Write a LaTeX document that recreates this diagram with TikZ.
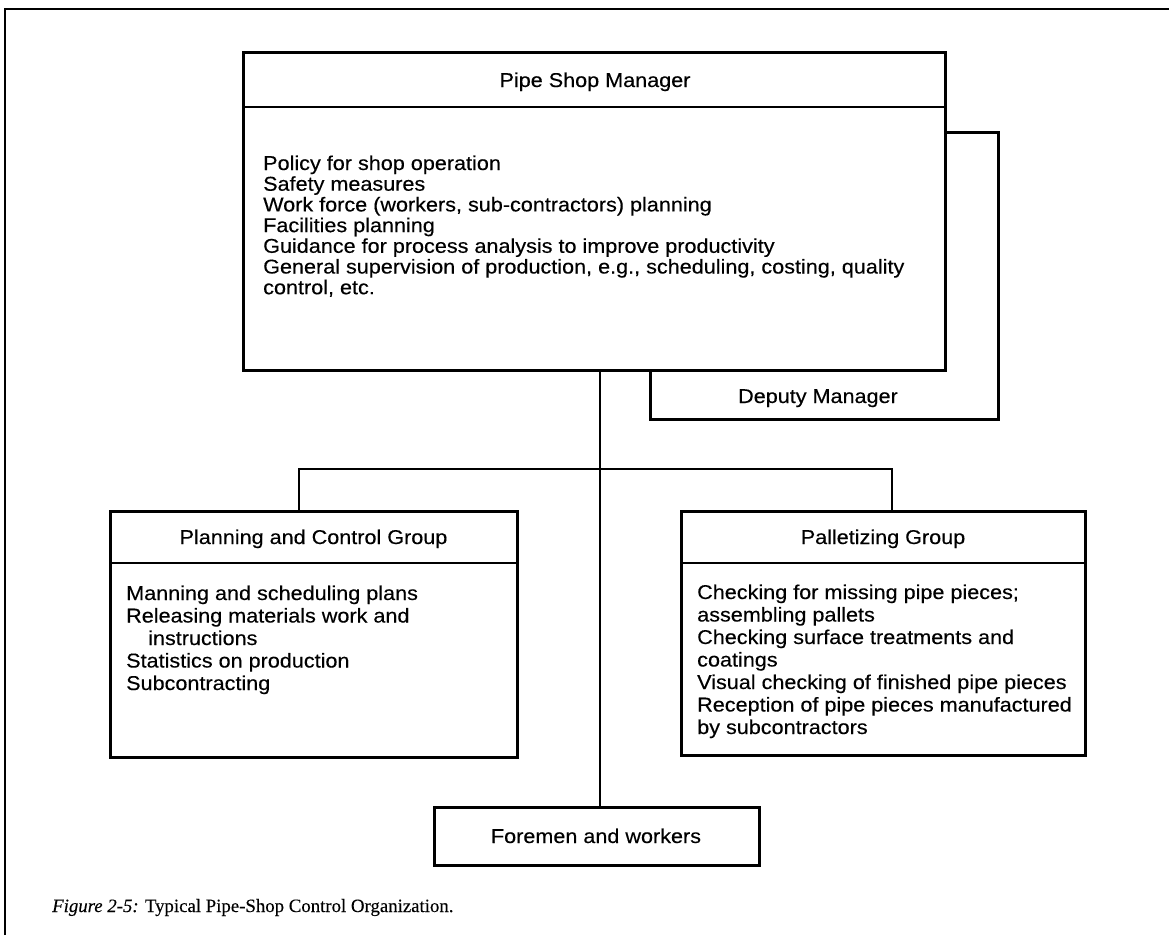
\documentclass[tikz,border=0pt]{standalone}
\usepackage{fontspec}
\setmainfont{Liberation Sans}[FakeStretch=1.08, FakeBold=0.3]
\newfontfamily\capfont{Liberation Serif}[FakeBold=0.2]

\begin{document}
\begin{tikzpicture}[x=1pt,y=-1pt,
  box/.style={draw, line width=3pt, rectangle, inner sep=0pt, outer sep=0pt, anchor=north west},
  rule/.style={line width=2.7pt},
  wire/.style={line width=1.8pt},
  frame/.style={line width=2.2pt},
  txt/.style={inner sep=0pt, font=\fontsize{20}{21}\selectfont},
  ttl/.style={txt, anchor=base},
  item/.style={txt, anchor=base west}]

\useasboundingbox (0,0) rectangle (1169,935);

% page frame (top and left edges)
\draw[frame] (5,935) -- (5,9) -- (1169,9);

% deputy box sits behind the manager box
\node[box, minimum width=348pt, minimum height=287pt] (deputy) at (650,132) {};
\node[ttl] (deputyT) at (818,403) {Deputy Manager};

% manager box
\node[box, fill=white, minimum width=702pt, minimum height=318pt] (mgr) at (243,52) {};
\draw[rule] (mgr.west |- 0,107) -- (mgr.east |- 0,107);
\node[ttl] (mgrT) at (595,87) {Pipe Shop Manager};
\foreach [count=\i] \t in {Policy for shop operation, Safety measures,
  {Work force (workers, sub-contractors) planning}, Facilities planning,
  Guidance for process analysis to improve productivity,
  {General supervision of production, e.g., scheduling, costing, quality},
  {control, etc.}}
  \node[item] (mgr-\i) at (263,{170+(\i-1)*20.7}) {\t};

% planning and control group
\node[box, minimum width=407pt, minimum height=246pt] (plan) at (110,511) {};
\draw[rule] (plan.west |- 0,563) -- (plan.east |- 0,563);
\node[ttl] (planT) at (313.5,544) {Planning and Control Group};
\node[item] (plan-1) at (126,600) {Manning and scheduling plans};
\node[item] (plan-2) at (126,622.5) {Releasing materials work and};
\node[item] (plan-3) at (148,645) {instructions};
\node[item] (plan-4) at (126,667.5) {Statistics on production};
\node[item] (plan-5) at (126,690) {Subcontracting};

% palletizing group
\node[box, minimum width=404pt, minimum height=244pt] (pal) at (681,511) {};
\draw[rule] (pal.west |- 0,563) -- (pal.east |- 0,563);
\node[ttl] (palT) at (883,544) {Palletizing Group};
\foreach [count=\i] \t in {Checking for missing pipe pieces;, assembling pallets,
  Checking surface treatments and, coatings,
  Visual checking of finished pipe pieces,
  Reception of pipe pieces manufactured, by subcontractors}
  \node[item] (pal-\i) at (697,{599+(\i-1)*22.5}) {\t};

% foremen and workers
\node[box, minimum width=325pt, minimum height=58pt] (fw) at (434,807) {};
\node[ttl] (fwT) at (596,843) {Foremen and workers};

% connectors
\coordinate (bl) at (299,469);
\coordinate (br) at (892,469);
\draw[wire] (mgr.south -| 600,0) -- (fw.north -| 600,0);
\draw[wire] (plan.north -| bl) -- (bl) -- (br) -- (pal.north -| br);

% caption
\node[anchor=base west, inner sep=0pt, font=\capfont\fontsize{18.8}{22}\selectfont]
  (cap) at (52,912) {\textit{Figure 2-5:} Typical Pipe-Shop Control Organization.};

\end{tikzpicture}
\end{document}
